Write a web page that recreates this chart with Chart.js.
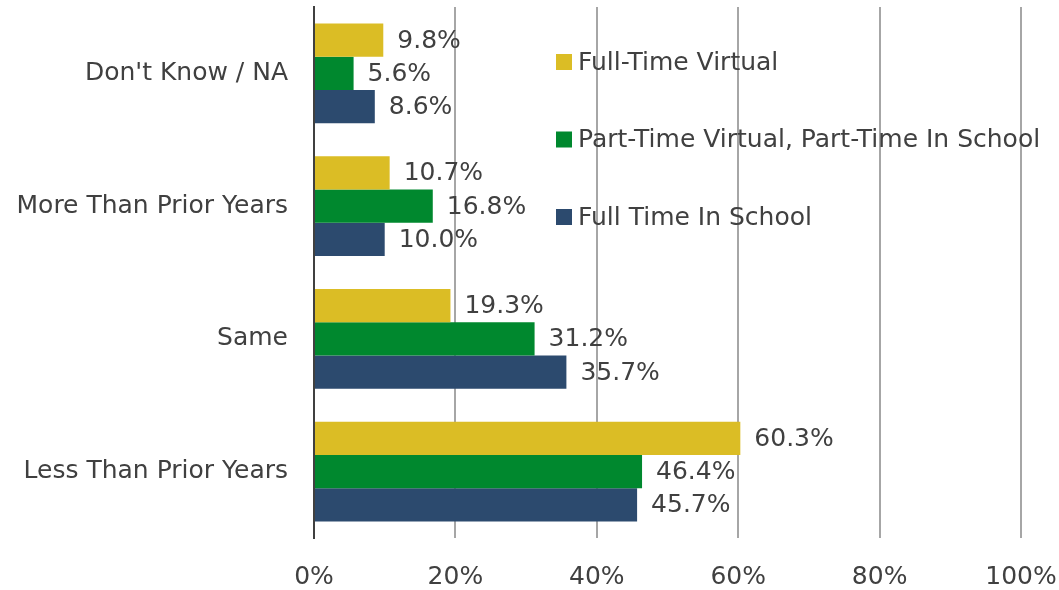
<!DOCTYPE html>
<html>
<head>
<meta charset="utf-8">
<script src="https://cdn.jsdelivr.net/npm/chart.js"></script>
<style>
    html, body {
        margin: 0;
        padding: 0;
        background: #ffffff;
    }
    .wrap {
        width: 1059px;
        height: 590px;
    }
</style>
</head>
<body>
<div class="wrap">
    <canvas id="chart" width="1059" height="590"></canvas>
</div>
<script>
    const categories = ["Don't Know / NA", "More Than Prior Years", "Same", "Less Than Prior Years"];
    const seriesNames = ["Full-Time Virtual", "Part-Time Virtual, Part-Time In School", "Full Time In School"];
    const fullTimeVirtual = [9.8, 10.7, 19.3, 60.3];
    const partTimeVirtual = [5.6, 16.8, 31.2, 46.4];
    const fullTimeInSchool = [8.6, 10.0, 35.7, 45.7];
    const xTicks = [0, 20, 40, 60, 80, 100];

    const colors = ['#dbbd25', '#00882e', '#2c4a6e'];
    const textColor = '#404040';
    const fontFamily = '"DejaVu Sans", Verdana, sans-serif';
    const fontSize = 25;

    // labels at the end of each bar
    const valueLabels = {
        id: 'valueLabels',
        afterDatasetsDraw(chart) {
            const ctx = chart.ctx;
            ctx.save();
            ctx.font = fontSize + 'px ' + fontFamily;
            ctx.fillStyle = textColor;
            ctx.textAlign = 'left';
            ctx.textBaseline = 'middle';
            chart.data.datasets.forEach((ds, i) => {
                chart.getDatasetMeta(i).data.forEach((bar, j) => {
                    ctx.fillText(ds.data[j].toFixed(1) + '%', bar.x + 14, bar.y + 1);
                });
            });
            ctx.restore();
        }
    };

    // legend drawn inside the plot area, stacked vertically
    const innerLegend = {
        id: 'innerLegend',
        afterDraw(chart) {
            const ctx = chart.ctx;
            ctx.save();
            ctx.font = fontSize + 'px ' + fontFamily;
            ctx.textBaseline = 'middle';
            chart.data.datasets.forEach((ds, i) => {
                const y = 62 + i * 77.5;
                ctx.fillStyle = ds.backgroundColor;
                ctx.fillRect(556, y - 8, 16, 16);
                ctx.fillStyle = textColor;
                ctx.fillText(ds.label, 578, y + 1);
            });
            ctx.restore();
        }
    };

    new Chart(document.getElementById('chart'), {
        type: 'bar',
        data: {
            labels: categories,
            datasets: [
                { label: seriesNames[0], data: fullTimeVirtual, backgroundColor: colors[0] },
                { label: seriesNames[1], data: partTimeVirtual, backgroundColor: colors[1] },
                { label: seriesNames[2], data: fullTimeInSchool, backgroundColor: colors[2] }
            ]
        },
        options: {
            indexAxis: 'y',
            responsive: false,
            animation: false,
            layout: { padding: { top: 7, right: 38, left: 0, bottom: 0 } },
            datasets: {
                bar: { categoryPercentage: 0.75, barPercentage: 1.0 }
            },
            plugins: {
                legend: { display: false },
                tooltip: { enabled: false }
            },
            scales: {
                x: {
                    min: 0,
                    max: 100,
                    afterBuildTicks(scale) {
                        scale.ticks = xTicks.map(v => ({ value: v }));
                    },
                    afterFit(scale) {
                        scale.height = 52;
                        scale.paddingLeft = 0;
                        scale.paddingRight = 0;
                    },
                    grid: { color: '#a6a6a6', lineWidth: 2, drawTicks: false },
                    border: { display: false },
                    ticks: {
                        padding: 24,
                        color: textColor,
                        font: { family: fontFamily, size: fontSize },
                        callback: v => v + '%'
                    }
                },
                y: {
                    afterFit(scale) {
                        scale.width = 314;
                        scale.paddingTop = 0;
                        scale.paddingBottom = 0;
                    },
                    grid: { display: false, drawTicks: false },
                    border: { display: true, color: '#404040', width: 2 },
                    ticks: {
                        padding: 26,
                        color: textColor,
                        font: { family: fontFamily, size: fontSize }
                    }
                }
            }
        },
        plugins: [valueLabels, innerLegend]
    });
</script>
</body>
</html>
